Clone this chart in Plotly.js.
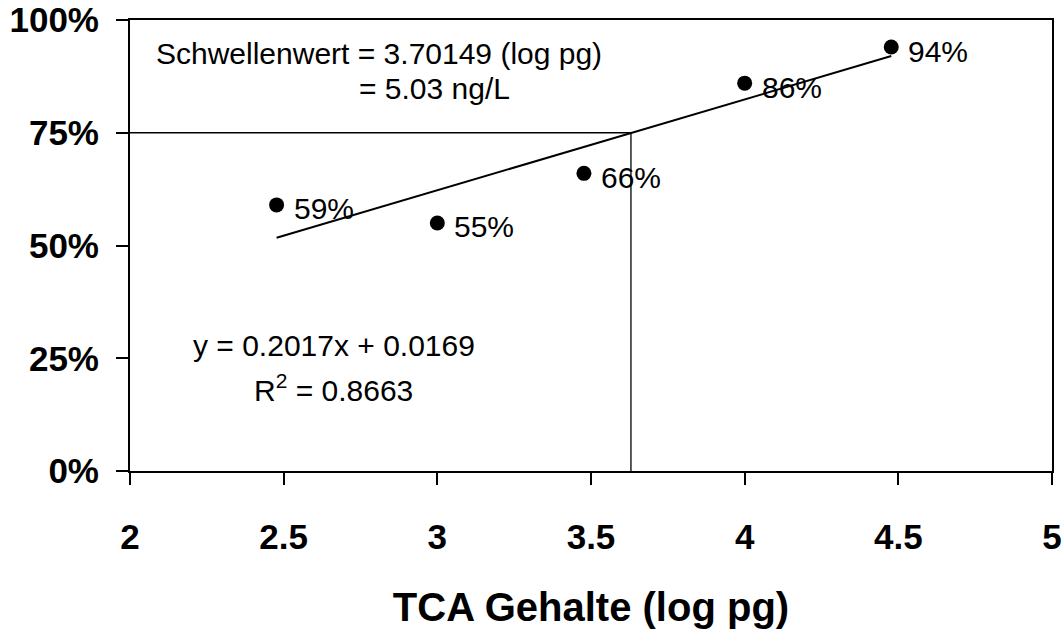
<!DOCTYPE html>
<html>
<head>
<meta charset="utf-8">
<script src="https://cdn.plot.ly/plotly-3.0.1.min.js"></script>
<style>html,body{margin:0;padding:0;background:#fff;}#chart{width:1062px;height:630px;}</style>
</head>
<body>
<div id="chart"></div>
<script>
// Data
const xValues = [2.477, 3.0, 3.477, 4.0, 4.477];     // TCA Gehalte (log pg)
const yValues = [0.59, 0.55, 0.66, 0.86, 0.94];       // fraction
const pointLabels = ['59%', '55%', '66%', '86%', '94%'];

const trendX = [2.477, 4.477];
const trendY = [0.517, 0.920];                        // y = 0.2017x + 0.0169

const thresholdX = 3.63;
const thresholdY = 0.75;
const hLineX = [2, thresholdX];
const hLineY = [thresholdY, thresholdY];
const vLineX = [thresholdX, thresholdX];
const vLineY = [0, thresholdY];

const xTicks = [2, 2.5, 3, 3.5, 4, 4.5, 5];
const xTickText = ['2', '2.5', '3', '3.5', '4', '4.5', '5'];
const yTicks = [0, 0.25, 0.5, 0.75, 1];
const yTickText = ['0%', '25%', '50%', '75%', '100%'];

const textNotes = [
  {text: 'Schwellenwert = 3.70149 (log pg)', x: 2.078, y: 0.925},
  {text: '= 5.03 ng/L', x: 2.740, y: 0.849},
  {text: 'y = 0.2017x + 0.0169', x: 2.198, y: 0.279},
  {text: 'R<sup>2</sup> = 0.8663', x: 2.398, y: 0.183}
];

const FONT = 'Liberation Sans, Arial, sans-serif';

const traces = [
  {x: hLineX, y: hLineY, mode: 'lines', line: {color: '#000', width: 1.3}, hoverinfo: 'skip', showlegend: false},
  {x: vLineX, y: vLineY, mode: 'lines', line: {color: '#000', width: 1.3}, hoverinfo: 'skip', showlegend: false},
  {x: trendX, y: trendY, mode: 'lines', line: {color: '#000', width: 2}, hoverinfo: 'skip', showlegend: false},
  {x: xValues, y: yValues, mode: 'markers', marker: {color: '#000', size: 15}, showlegend: false}
];

const annotations = [];
for (let i = 0; i < xValues.length; i++) {
  annotations.push({
    x: xValues[i], y: yValues[i], xref: 'x', yref: 'y',
    text: pointLabels[i], showarrow: false,
    xanchor: 'left', yanchor: 'middle', xshift: 15, yshift: -4,
    font: {family: FONT, size: 30, color: '#000'}
  });
}
textNotes.forEach(n => annotations.push({
  x: n.x, y: n.y, xref: 'x', yref: 'y', text: n.text, showarrow: false,
  xanchor: 'left', yanchor: 'middle',
  font: {family: FONT, size: 30, color: '#000'}
}));

const layout = {
  width: 1062, height: 630,
  margin: {l: 130, r: 10, t: 20, b: 159},
  paper_bgcolor: '#fff', plot_bgcolor: '#fff',
  showlegend: false,
  xaxis: {
    range: [2, 5], tickvals: xTicks, ticktext: xTickText,
    showgrid: false, zeroline: false,
    showline: true, linecolor: '#000', linewidth: 2, mirror: true,
    ticks: 'outside', ticklen: 12, tickwidth: 2, tickcolor: '#000',
    ticklabelstandoff: 22,
    tickfont: {family: FONT, size: 35, color: '#000', weight: 'bold'},
    title: {text: '<b>TCA Gehalte (log pg)</b>', standoff: 38,
            font: {family: FONT, size: 40, color: '#000'}}
  },
  yaxis: {
    range: [0, 1], tickvals: yTicks, ticktext: yTickText,
    showgrid: false, zeroline: false,
    showline: true, linecolor: '#000', linewidth: 2, mirror: true,
    ticks: 'outside', ticklen: 12, tickwidth: 2, tickcolor: '#000',
    ticklabelstandoff: 10,
    tickfont: {family: FONT, size: 35, color: '#000', weight: 'bold'}
  },
  annotations: annotations
};

Plotly.newPlot('chart', traces, layout, {displayModeBar: false, staticPlot: true});
</script>
</body>
</html>
